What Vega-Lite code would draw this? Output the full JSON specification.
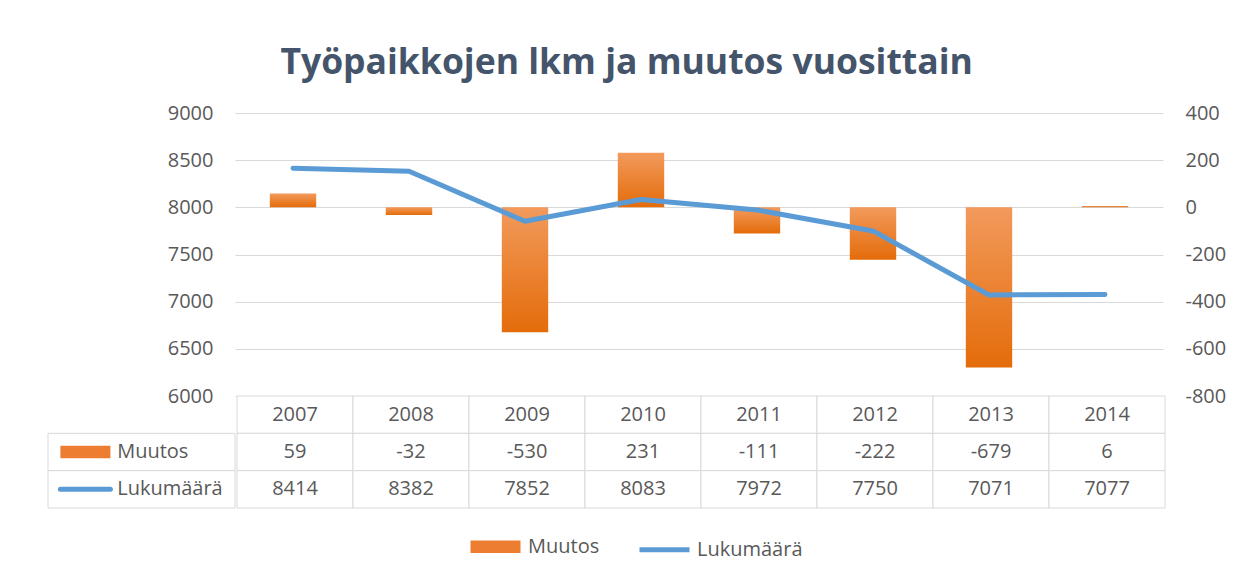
{
  "$schema": "https://vega.github.io/schema/vega-lite/v6.json",
  "background": "white",
  "autosize": {"type": "pad"},
  "padding": {"left": 47, "top": 45, "right": 10, "bottom": 10},
  "title": {"text": "Työpaikkojen lkm ja muutos vuosittain", "font": "Open Sans", "fontSize": 35.5, "fontWeight": "bold", "color": "#44546A", "anchor": "middle", "offset": 22, "dx": -10},
  "datasets": {
    "main": [
      {"year": "2007", "Muutos": 59, "Lukumäärä": 8414},
      {"year": "2008", "Muutos": -32, "Lukumäärä": 8382},
      {"year": "2009", "Muutos": -530, "Lukumäärä": 7852},
      {"year": "2010", "Muutos": 231, "Lukumäärä": 8083},
      {"year": "2011", "Muutos": -111, "Lukumäärä": 7972},
      {"year": "2012", "Muutos": -222, "Lukumäärä": 7750},
      {"year": "2013", "Muutos": -679, "Lukumäärä": 7071},
      {"year": "2014", "Muutos": 6, "Lukumäärä": 7077}
    ],
    "rows": [{"row": "Muutos"}, {"row": "Lukumäärä"}]
  },
  "spacing": 0,
  "bounds": "flush",
  "vconcat": [
    {
      "width": 1115,
      "height": 283,
      "data": {"name": "main"},
      "encoding": {
        "x": {"field": "year", "type": "ordinal", "scale": {"range": [187, 1115], "paddingInner": 0, "paddingOuter": 0}, "axis": null}
      },
      "layer": [
        {
          "mark": {"type": "bar", "width": {"band": 0.4}, "strokeWidth": 0,
            "fill": {"gradient": "linear", "x1": 0, "y1": 0, "x2": 0, "y2": 1, "stops": [{"offset": 0, "color": "#F29A5C"}, {"offset": 1, "color": "#E46C0A"}]}},
          "encoding": {
            "y": {"field": "Muutos", "type": "quantitative", "scale": {"domain": [-800, 400], "nice": false},
              "axis": {"orient": "right", "values": [-800, -600, -400, -200, 0, 200, 400], "labelExpr": "'' + datum.value", "grid": false, "domain": false, "ticks": false, "tickSize": 0, "labelPadding": 22, "title": null}}
          }
        },
        {
          "mark": {"type": "line", "strokeWidth": 5, "strokeCap": "round", "strokeJoin": "round", "color": "#5B9BD5"},
          "encoding": {
            "y": {"field": "Lukumäärä", "type": "quantitative", "scale": {"domain": [6000, 9000], "nice": false},
              "axis": {"orient": "left", "offset": -187, "values": [6000, 6500, 7000, 7500, 8000, 8500, 9000], "labelExpr": "'' + datum.value", "grid": true, "domain": false, "ticks": false, "tickSize": 0, "labelPadding": 22, "title": null}}
          }
        }
      ],
      "resolve": {"scale": {"y": "independent"}}
    },
    {
      "spacing": 0,
      "hconcat": [
        {
          "width": 187,
          "height": 112,
          "data": {"name": "rows"},
          "encoding": {
            "y": {"field": "row", "type": "nominal", "scale": {"domain": ["year", "Muutos", "Lukumäärä"], "paddingInner": 0, "paddingOuter": 0}, "axis": null}
          },
          "layer": [
            {
              "mark": {"type": "rect", "fill": "white", "stroke": "#D9D9D9", "strokeWidth": 1},
              "encoding": {
                "x": {"datum": 0, "type": "quantitative", "scale": {"domain": [0, 1]}, "axis": null},
                "x2": {"datum": 1}
              }
            },
            {
              "mark": {"type": "point", "size": 2500, "strokeWidth": 5, "strokeCap": "round", "opacity": 1},
              "encoding": {
                "x": {"datum": 0.2, "type": "quantitative"},
                "shape": {"field": "row", "type": "nominal",
                  "scale": {"domain": ["Muutos", "Lukumäärä"], "range": ["M-1,-0.25H1V0.25H-1Z", "M-1,0H1"]},
                  "legend": {"title": null, "orient": "none", "legendX": 420, "legendY": 406, "direction": "horizontal", "symbolSize": 2500, "symbolStrokeWidth": 5, "symbolOpacity": 1, "columnPadding": 29, "labelOffset": 5}},
                "fill": {"field": "row", "type": "nominal",
                  "scale": {"domain": ["Muutos", "Lukumäärä"], "range": ["#ED7D31", "transparent"]},
                  "legend": {"title": null, "orient": "none", "legendX": 420, "legendY": 406, "direction": "horizontal", "symbolSize": 2500, "symbolStrokeWidth": 5, "symbolOpacity": 1, "columnPadding": 29, "labelOffset": 5}},
                "stroke": {"field": "row", "type": "nominal",
                  "scale": {"domain": ["Muutos", "Lukumäärä"], "range": ["transparent", "#5B9BD5"]},
                  "legend": {"title": null, "orient": "none", "legendX": 420, "legendY": 406, "direction": "horizontal", "symbolSize": 2500, "symbolStrokeWidth": 5, "symbolOpacity": 1, "columnPadding": 29, "labelOffset": 5}}
              }
            },
            {
              "mark": {"type": "text", "align": "left", "baseline": "middle", "fontSize": 20, "font": "Open Sans", "color": "#595959"},
              "encoding": {"x": {"datum": 0.37, "type": "quantitative"}, "text": {"field": "row"}}
            }
          ]
        },
        {
          "width": 928,
          "height": 112,
          "data": {"name": "main"},
          "transform": [{"fold": ["year", "Muutos", "Lukumäärä"], "as": ["row", "val"]}],
          "encoding": {
            "x": {"field": "year", "type": "ordinal", "scale": {"paddingInner": 0, "paddingOuter": 0}, "axis": null},
            "y": {"field": "row", "type": "nominal", "scale": {"domain": ["year", "Muutos", "Lukumäärä"], "paddingInner": 0, "paddingOuter": 0}, "axis": null}
          },
          "layer": [
            {"mark": {"type": "rect", "fill": "white", "stroke": "#D9D9D9", "strokeWidth": 1}},
            {"mark": {"type": "text", "baseline": "middle", "fontSize": 20, "font": "Open Sans", "color": "#595959"},
              "encoding": {"text": {"field": "val", "type": "nominal"}}}
          ]
        }
      ]
    }
  ],
  "config": {
    "view": {"stroke": null},
    "axis": {"labelFont": "Open Sans", "labelFontSize": 20, "labelColor": "#595959", "gridColor": "#D9D9D9", "gridWidth": 1},
    "legend": {"labelFont": "Open Sans", "labelFontSize": 20, "labelColor": "#595959"}
  }
}
